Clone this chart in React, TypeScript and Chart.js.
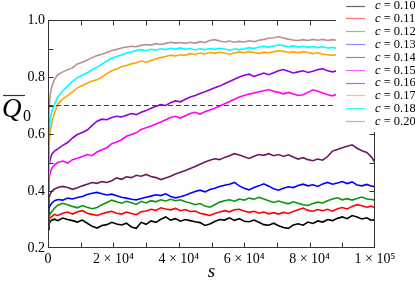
import { useEffect, useRef } from "react";
import { Chart, registerables } from "chart.js";
Chart.register(...registerables);

const S = [0, 300, 700, 1200, 2000, 3000, 4500, 6000, 7500, 9000, 10500, 12000, 13500, 15000, 16500, 18000, 19500, 21000, 22500, 24000, 25500, 27000, 28500, 30000, 31500, 33000, 34500, 36000, 37500, 39000, 40500, 42000, 43500, 45000, 46500, 48000, 49500, 51000, 52500, 54000, 55500, 57000, 58500, 60000, 61500, 63000, 64500, 66000, 67500, 69000, 70500, 72000, 73500, 75000, 76500, 78000, 79500, 81000, 82500, 84000, 85500, 87000, 88500, 90000, 91500, 93000, 94500, 96000, 97500, 99000, 100000];

const C_LABELS = ["0.10", "0.11", "0.12", "0.13", "0.14", "0.15", "0.16", "0.17", "0.18", "0.20"];

const V10 = [0.265, 0.285, 0.292, 0.298, 0.301, 0.296, 0.305, 0.300, 0.296, 0.291, 0.298, 0.287, 0.276, 0.270, 0.279, 0.282, 0.290, 0.284, 0.281, 0.287, 0.274, 0.269, 0.290, 0.283, 0.295, 0.290, 0.301, 0.309, 0.298, 0.303, 0.294, 0.300, 0.296, 0.292, 0.289, 0.279, 0.284, 0.293, 0.300, 0.298, 0.306, 0.297, 0.303, 0.294, 0.292, 0.298, 0.290, 0.282, 0.280, 0.287, 0.278, 0.272, 0.269, 0.281, 0.285, 0.280, 0.291, 0.286, 0.295, 0.291, 0.300, 0.296, 0.304, 0.309, 0.303, 0.314, 0.309, 0.302, 0.306, 0.297, 0.300];
const V11 = [0.280, 0.300, 0.306, 0.311, 0.318, 0.314, 0.322, 0.326, 0.319, 0.327, 0.331, 0.322, 0.318, 0.314, 0.320, 0.325, 0.329, 0.322, 0.319, 0.326, 0.321, 0.317, 0.327, 0.330, 0.336, 0.332, 0.341, 0.337, 0.334, 0.339, 0.331, 0.335, 0.328, 0.330, 0.322, 0.318, 0.314, 0.321, 0.326, 0.331, 0.327, 0.334, 0.336, 0.330, 0.325, 0.329, 0.322, 0.326, 0.320, 0.324, 0.319, 0.325, 0.321, 0.328, 0.334, 0.340, 0.332, 0.329, 0.335, 0.331, 0.336, 0.329, 0.338, 0.342, 0.337, 0.346, 0.352, 0.348, 0.343, 0.347, 0.340];
const V12 = [0.290, 0.312, 0.320, 0.328, 0.340, 0.350, 0.357, 0.352, 0.346, 0.341, 0.349, 0.343, 0.338, 0.342, 0.352, 0.360, 0.368, 0.362, 0.357, 0.364, 0.359, 0.353, 0.364, 0.358, 0.366, 0.362, 0.369, 0.365, 0.371, 0.366, 0.369, 0.362, 0.358, 0.352, 0.356, 0.347, 0.343, 0.352, 0.361, 0.366, 0.369, 0.364, 0.372, 0.368, 0.375, 0.371, 0.378, 0.372, 0.366, 0.360, 0.365, 0.360, 0.355, 0.362, 0.357, 0.352, 0.349, 0.356, 0.361, 0.358, 0.366, 0.372, 0.376, 0.369, 0.373, 0.368, 0.374, 0.379, 0.372, 0.370, 0.368];
const V13 = [0.320, 0.340, 0.350, 0.358, 0.366, 0.370, 0.368, 0.375, 0.372, 0.377, 0.381, 0.388, 0.392, 0.395, 0.390, 0.386, 0.389, 0.383, 0.378, 0.375, 0.371, 0.369, 0.374, 0.378, 0.382, 0.387, 0.384, 0.390, 0.381, 0.376, 0.380, 0.385, 0.392, 0.398, 0.403, 0.397, 0.405, 0.410, 0.416, 0.420, 0.424, 0.430, 0.418, 0.410, 0.404, 0.412, 0.418, 0.425, 0.417, 0.408, 0.403, 0.410, 0.415, 0.412, 0.419, 0.424, 0.418, 0.422, 0.416, 0.425, 0.430, 0.424, 0.428, 0.433, 0.426, 0.432, 0.421, 0.418, 0.423, 0.417, 0.415];
const V14 = [0.350, 0.375, 0.390, 0.400, 0.407, 0.412, 0.416, 0.412, 0.406, 0.411, 0.418, 0.424, 0.430, 0.427, 0.433, 0.430, 0.436, 0.446, 0.441, 0.450, 0.447, 0.455, 0.452, 0.458, 0.451, 0.447, 0.440, 0.446, 0.452, 0.460, 0.466, 0.472, 0.479, 0.486, 0.494, 0.502, 0.508, 0.513, 0.510, 0.518, 0.524, 0.531, 0.526, 0.520, 0.514, 0.522, 0.528, 0.525, 0.531, 0.524, 0.528, 0.521, 0.527, 0.519, 0.512, 0.517, 0.510, 0.506, 0.512, 0.508, 0.521, 0.540, 0.546, 0.552, 0.557, 0.562, 0.550, 0.541, 0.535, 0.518, 0.500];
const V15 = [0.400, 0.440, 0.465, 0.480, 0.492, 0.500, 0.505, 0.498, 0.510, 0.515, 0.521, 0.528, 0.524, 0.537, 0.545, 0.552, 0.566, 0.572, 0.580, 0.592, 0.598, 0.604, 0.616, 0.622, 0.628, 0.635, 0.642, 0.650, 0.658, 0.662, 0.656, 0.664, 0.672, 0.676, 0.670, 0.678, 0.684, 0.690, 0.698, 0.706, 0.714, 0.722, 0.730, 0.735, 0.740, 0.744, 0.748, 0.752, 0.756, 0.750, 0.746, 0.741, 0.746, 0.740, 0.735, 0.738, 0.746, 0.755, 0.750, 0.744, 0.738, 0.734, 0.740, 0.745, 0.742, 0.747, 0.741, 0.745, 0.739, 0.743, 0.740];
const V16 = [0.450, 0.490, 0.512, 0.530, 0.540, 0.548, 0.560, 0.570, 0.586, 0.598, 0.605, 0.614, 0.630, 0.645, 0.652, 0.650, 0.658, 0.662, 0.660, 0.666, 0.672, 0.668, 0.676, 0.682, 0.690, 0.697, 0.703, 0.700, 0.710, 0.716, 0.713, 0.722, 0.730, 0.735, 0.742, 0.748, 0.755, 0.762, 0.768, 0.776, 0.784, 0.792, 0.800, 0.806, 0.810, 0.802, 0.808, 0.814, 0.808, 0.815, 0.822, 0.826, 0.820, 0.814, 0.818, 0.822, 0.816, 0.820, 0.826, 0.829, 0.822, 0.818, 0.822, 0.826, 0.820, 0.824, 0.828, 0.822, 0.826, 0.823, 0.825];
const V17 = [0.450, 0.560, 0.610, 0.640, 0.675, 0.705, 0.722, 0.735, 0.748, 0.762, 0.770, 0.778, 0.786, 0.790, 0.800, 0.812, 0.822, 0.828, 0.836, 0.840, 0.846, 0.850, 0.856, 0.852, 0.858, 0.864, 0.868, 0.872, 0.876, 0.874, 0.878, 0.876, 0.882, 0.879, 0.884, 0.881, 0.886, 0.883, 0.887, 0.884, 0.880, 0.884, 0.888, 0.885, 0.889, 0.886, 0.883, 0.887, 0.885, 0.889, 0.892, 0.890, 0.886, 0.888, 0.885, 0.889, 0.886, 0.882, 0.885, 0.880, 0.878, 0.876, 0.879, 0.876, 0.878, 0.875, 0.878, 0.876, 0.879, 0.877, 0.876];
const V18 = [0.460, 0.600, 0.650, 0.680, 0.705, 0.730, 0.752, 0.768, 0.785, 0.798, 0.806, 0.815, 0.826, 0.834, 0.845, 0.856, 0.866, 0.872, 0.878, 0.884, 0.888, 0.893, 0.896, 0.892, 0.897, 0.894, 0.899, 0.896, 0.901, 0.898, 0.902, 0.897, 0.900, 0.895, 0.899, 0.896, 0.900, 0.897, 0.901, 0.898, 0.894, 0.898, 0.896, 0.899, 0.903, 0.900, 0.905, 0.908, 0.905, 0.909, 0.912, 0.910, 0.906, 0.909, 0.905, 0.908, 0.904, 0.907, 0.903, 0.906, 0.902, 0.904, 0.901, 0.904, 0.902, 0.905, 0.902, 0.904, 0.901, 0.903, 0.902];
const V20 = [0.500, 0.680, 0.740, 0.768, 0.792, 0.808, 0.818, 0.825, 0.832, 0.846, 0.852, 0.860, 0.868, 0.875, 0.880, 0.886, 0.893, 0.897, 0.902, 0.905, 0.908, 0.906, 0.911, 0.914, 0.912, 0.917, 0.914, 0.918, 0.922, 0.919, 0.921, 0.918, 0.922, 0.919, 0.924, 0.921, 0.928, 0.931, 0.926, 0.923, 0.926, 0.922, 0.925, 0.923, 0.927, 0.924, 0.929, 0.932, 0.936, 0.938, 0.941, 0.937, 0.933, 0.930, 0.928, 0.931, 0.928, 0.932, 0.929, 0.932, 0.928, 0.931, 0.929, 0.932, 0.930, 0.933, 0.930, 0.932, 0.929, 0.931, 0.930];

const SERIES = [V10, V11, V12, V13, V14, V15, V16, V17, V18, V20];
const COLORS = ["#000000", "#ff0000", "#0a960a", "#0000ff", "#6a1a5c", "#ff00ff", "#9400d3", "#ffa500", "#00ffff", "#bc8f8f"];
const LEGEND_COLORS = ["rgba(0,0,0,0.6)", "rgba(255,0,0,0.55)", "rgba(10,150,10,0.5)", "rgba(0,0,255,0.45)", "rgba(106,26,92,0.55)", "rgba(255,0,255,0.6)", "rgba(148,0,211,0.6)", "rgba(255,165,0,0.65)", "rgba(0,255,255,0.8)", "rgba(188,143,143,0.75)"];

const THRESHOLD = 0.7;
const X_TICK_LABELS: Record<number, string> = { 0: "0", 20000: "2 × 10⁴", 40000: "4 × 10⁴", 60000: "6 × 10⁴", 80000: "8 × 10⁴", 100000: "1 × 10⁵" };

const SERIF = "'Liberation Serif', 'Times New Roman', serif";

const framePlugin = {
  id: "frame",
  afterDraw(chart: any) {
    const { ctx, chartArea } = chart;
    const xs = chart.scales.x;
    const ys = chart.scales.y;
    const L = Math.round(chartArea.left) + 0.5;
    const R = Math.round(chartArea.right) - 0.5;
    const T = Math.round(chartArea.top) + 0.5;
    const B = Math.round(chartArea.bottom) - 0.5;
    ctx.save();
    ctx.strokeStyle = "#333";
    ctx.lineWidth = 1;
    ctx.strokeRect(L, T, R - L, B - T);
    ctx.beginPath();
    for (let v = 10000; v < 100000; v += 10000) {
      const px = Math.round(xs.getPixelForValue(v)) + 0.5;
      ctx.moveTo(px, B);
      ctx.lineTo(px, B - 5);
      ctx.moveTo(px, T);
      ctx.lineTo(px, T + 5);
    }
    for (let k = 3; k <= 9; k++) {
      const py = Math.round(ys.getPixelForValue(k / 10)) + 0.5;
      ctx.moveTo(L, py);
      ctx.lineTo(L + 5, py);
      ctx.moveTo(R, py);
      ctx.lineTo(R - 5, py);
    }
    ctx.stroke();

    // axis titles
    ctx.fillStyle = "#000";
    ctx.textBaseline = "alphabetic";
    ctx.textAlign = "center";
    ctx.font = `italic 19px ${SERIF}`;
    ctx.fillText("s", (chartArea.left + chartArea.right) / 2, 277);
    ctx.textAlign = "left";
    ctx.font = `italic 27px ${SERIF}`;
    ctx.fillText("Q", 2, 117);
    ctx.font = `16px ${SERIF}`;
    ctx.fillText("0", 23, 121);
    ctx.beginPath();
    ctx.lineWidth = 1.2;
    ctx.moveTo(3, 95.5);
    ctx.lineTo(25, 95.5);
    ctx.stroke();

    // legend box
    ctx.fillStyle = "#fff";
    ctx.fillRect(336, 0, 415 - 336, 132);
    ctx.textBaseline = "middle";
    C_LABELS.forEach((lab, i) => {
      const y = 5.5 + i * 12.85;
      ctx.strokeStyle = LEGEND_COLORS[i];
      ctx.lineWidth = 1.2;
      ctx.beginPath();
      ctx.moveTo(346, Math.round(y) + 0.5);
      ctx.lineTo(365, Math.round(y) + 0.5);
      ctx.stroke();
      ctx.fillStyle = "#000";
      ctx.font = `italic 12.5px ${SERIF}`;
      ctx.fillText("c", 375, y + 0.5);
      const cw = ctx.measureText("c").width;
      ctx.font = `12.5px ${SERIF}`;
      ctx.fillText(" = " + lab, 375 + cw, y + 0.5);
    });
    ctx.restore();
  },
};

export default function App() {
  const ref = useRef<HTMLCanvasElement | null>(null);
  useEffect(() => {
    document.body.style.margin = "0";
    const canvas = ref.current;
    if (!canvas) return;
    const datasets: any[] = SERIES.map((vals, i) => ({
      label: "c = " + C_LABELS[i],
      data: S.map((s, j) => ({ x: s, y: vals[j] })),
      borderColor: COLORS[i],
      borderWidth: 1.6,
      pointRadius: 0,
      tension: 0,
      fill: false,
      order: SERIES.length - i,
    }));
    datasets.push({
      label: "threshold",
      data: [{ x: 0, y: THRESHOLD }, { x: 100000, y: THRESHOLD }],
      borderColor: "#444",
      borderWidth: 1.2,
      borderDash: [5, 3],
      pointRadius: 0,
      fill: false,
      order: 0,
    });
    const chart = new Chart(canvas, {
      type: "line",
      data: { datasets },
      options: {
        animation: false,
        responsive: false,
        devicePixelRatio: 1,
        layout: { padding: { top: 20, right: 40, left: 0, bottom: 0 } },
        plugins: { legend: { display: false }, tooltip: { enabled: false } },
        scales: {
          x: {
            type: "linear",
            min: 0,
            max: 100000,
            grid: { display: false, drawTicks: false },
            border: { display: false },
            afterFit: (s: any) => { s.height = 33; },
            ticks: {
              stepSize: 20000,
              autoSkip: false,
              maxRotation: 0,
              padding: 3,
              color: "#000",
              font: { family: SERIF, size: 14 },
              callback: (v: any) => X_TICK_LABELS[v] ?? "",
            },
          },
          y: {
            type: "linear",
            min: 0.2,
            max: 1.0,
            grid: { display: false, drawTicks: false },
            border: { display: false },
            afterFit: (s: any) => { s.width = 48; },
            ticks: {
              stepSize: 0.2,
              padding: 3,
              color: "#000",
              font: { family: SERIF, size: 14 },
              callback: (v: any) => Number(v).toFixed(1),
            },
          },
        },
      },
      plugins: [framePlugin],
    });
    return () => chart.destroy();
  }, []);
  return (
    <div style={{ width: 415, height: 281, background: "#fff" }}>
      <canvas ref={ref} width={415} height={281} style={{ display: "block" }} />
    </div>
  );
}
